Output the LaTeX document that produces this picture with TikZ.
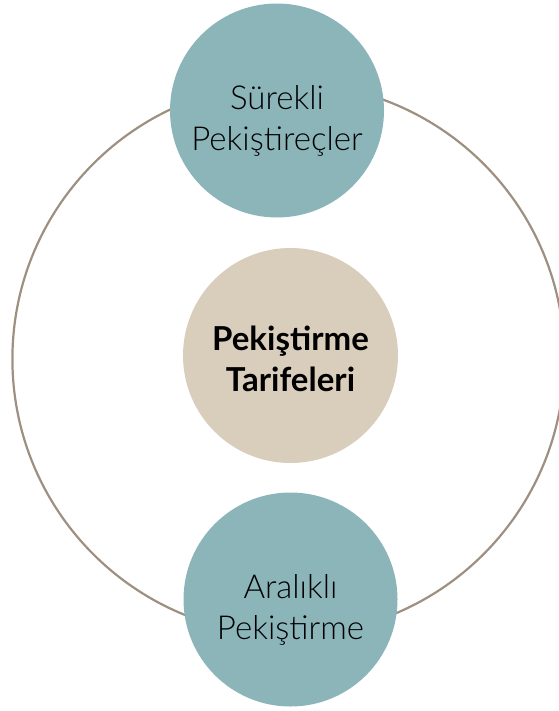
\documentclass[tikz,border=0pt]{standalone}
\usepackage{fontspec}
\setmainfont{Lato}
\newfontfamily\thinlato{Lato Light}
\definecolor{ringline}{HTML}{9E9080}
\definecolor{tealfill}{HTML}{8CB5BA}
\definecolor{sandfill}{HTML}{D9CDBC}
\tikzset{
  ring/.style={draw=ringline, line width=2.2pt},
  outerbubble/.style={circle, fill=tealfill, minimum size=214pt, inner sep=0pt},
  hubbubble/.style={circle, fill=sandfill, minimum size=215pt, inner sep=0pt},
  bubbletext/.style={align=center, inner sep=0pt, text=black,
    font=\thinlato\fontsize{33}{41}\selectfont},
  hubtext/.style={align=center, inner sep=0pt, text=black,
    font=\fontsize{33}{41}\selectfont\bfseries},
}
\begin{document}
\begin{tikzpicture}[x=1pt, y=-1pt]
  \useasboundingbox (0,0) rectangle (558,711);
  % outer ring
  \coordinate (ringc) at (288.4,359);
  \draw[ring] (ringc) circle[radius=276];
  % bubbles
  \node[outerbubble] (top) at (277,110.5) {};
  \node[hubbubble] (hub) at (290.5,355.5) {};
  \node[outerbubble] (bottom) at (290.5,599.5) {};
  % labels
  \node[bubbletext] (toptxt) at ([yshift=-10pt]top.center) {Sürekli\\Pekiştireçler};
  \node[hubtext] (hubtxt) at ([yshift=-3pt]hub.center) {Pekiştirme\\Tarifeleri};
  \node[bubbletext] (bottomtxt) at ([yshift=-10pt]bottom.center) {Aralıklı\\Pekiştirme};
\end{tikzpicture}
\end{document}
